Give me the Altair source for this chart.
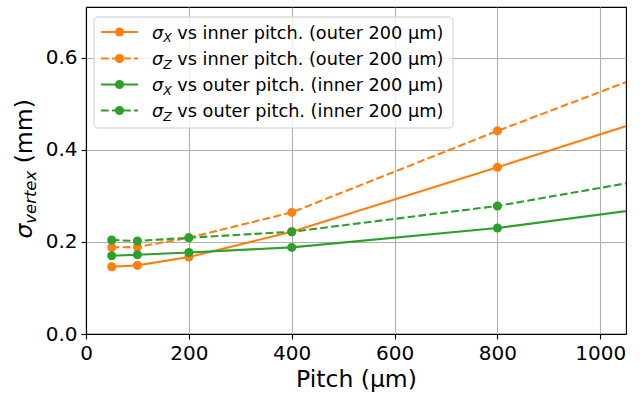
import altair as alt
import pandas as pd

# ---- data ----
pitch = [50, 100, 200, 400, 800, 1600]
sx_inner = [0.146, 0.149, 0.167, 0.222, 0.362, 0.648]
sz_inner = [0.188, 0.189, 0.209, 0.264, 0.441, 0.780]
sx_outer = [0.170, 0.172, 0.177, 0.188, 0.230, 0.348]
sz_outer = [0.204, 0.202, 0.209, 0.222, 0.278, 0.435]

series_keys = ["sx_in", "sz_in", "sx_out", "sz_out"]
series_vals = [sx_inner, sz_inner, sx_outer, sz_outer]
sub_letters = ["X", "Z", "X", "Z"]
label_rest = [
    "vs inner pitch. (outer 200 μm)",
    "vs inner pitch. (outer 200 μm)",
    "vs outer pitch. (inner 200 μm)",
    "vs outer pitch. (inner 200 μm)",
]
colors = ["#ff7f0e", "#ff7f0e", "#2ca02c", "#2ca02c"]
dashed = [False, True, False, True]

x_ticks = [0, 200, 400, 600, 800, 1000]
y_ticks = [0.0, 0.2, 0.4, 0.6]

rows = []
for k, vals in zip(series_keys, series_vals):
    for p, v in zip(pitch, vals):
        rows.append({"series": k, "pitch": p, "sigma": v})
df = pd.DataFrame(rows)

FONT = "DejaVu Sans"
DASH = [7.7, 3.3]
LW = 2.1
MS = 82

x_enc = alt.X(
    "pitch:Q",
    scale=alt.Scale(domain=[0, 1050], nice=False, zero=False),
    axis=alt.Axis(values=x_ticks, title="Pitch (μm)", format="d"),
)
y_enc = alt.Y(
    "sigma:Q",
    scale=alt.Scale(domain=[0, 0.71], nice=False),
    axis=alt.Axis(values=y_ticks, format=".1f", title=None),
)

layers = []
for k, c, d in zip(series_keys, colors, dashed):
    sub = df[df["series"] == k]
    line_kw = dict(color=c, strokeWidth=LW, clip=True)
    if d:
        line_kw["strokeDash"] = DASH
    layers.append(alt.Chart(sub).mark_line(**line_kw).encode(x=x_enc, y=y_enc))
    layers.append(
        alt.Chart(sub)
        .mark_circle(color=c, size=MS, opacity=1, clip=True)
        .encode(x=x_enc, y=y_enc)
    )

one = alt.Data(values=[{"a": 1}])

# ---- legend (drawn manually to match the line+marker handles) ----
layers.append(
    alt.Chart(one)
    .mark_rect(fill="white", fillOpacity=0.8, stroke="#cccccc", strokeWidth=1, cornerRadius=4)
    .encode(x=alt.value(8), x2=alt.value(367), y=alt.value(10), y2=alt.value(121))
)
row_y = [25, 51.5, 77.5, 103.5]
for ry, c, d, sl, rest in zip(row_y, colors, dashed, sub_letters, label_rest):
    rk = dict(color=c, strokeWidth=LW)
    if d:
        rk["strokeDash"] = DASH
    layers.append(
        alt.Chart(one).mark_rule(**rk).encode(
            x=alt.value(15), x2=alt.value(52), y=alt.value(ry)
        )
    )
    layers.append(
        alt.Chart(one).mark_circle(color=c, size=MS, opacity=1).encode(
            x=alt.value(33.5), y=alt.value(ry)
        )
    )
    layers.append(
        alt.Chart(one)
        .mark_text(font=FONT, fontSize=17.7, fontStyle="italic", align="left",
                   baseline="alphabetic", color="black")
        .encode(x=alt.value(66), y=alt.value(ry + 6.5), text=alt.value("σ"))
    )
    layers.append(
        alt.Chart(one)
        .mark_text(font=FONT, fontSize=12.4, fontStyle="italic", align="left",
                   baseline="alphabetic", color="black")
        .encode(x=alt.value(77.2), y=alt.value(ry + 10), text=alt.value(sl))
    )
    layers.append(
        alt.Chart(one)
        .mark_text(font=FONT, fontSize=17.7, align="left",
                   baseline="alphabetic", color="black")
        .encode(x=alt.value(91.3), y=alt.value(ry + 6.5), text=alt.value(rest))
    )

# ---- y axis title: sigma_vertex (mm) ----
layers.append(
    alt.Chart(one)
    .mark_text(font=FONT, fontSize=23.5, fontStyle="italic", align="left",
               baseline="alphabetic", angle=270, color="black")
    .encode(x=alt.value(-54), y=alt.value(231.5), text=alt.value("σ"))
)
layers.append(
    alt.Chart(one)
    .mark_text(font=FONT, fontSize=16.45, fontStyle="italic", align="left",
               baseline="alphabetic", angle=270, color="black")
    .encode(x=alt.value(-50), y=alt.value(216.7), text=alt.value("vertex"))
)
layers.append(
    alt.Chart(one)
    .mark_text(font=FONT, fontSize=23.5, align="left",
               baseline="alphabetic", angle=270, color="black")
    .encode(x=alt.value(-54), y=alt.value(156.3), text=alt.value("(mm)"))
)

chart = (
    alt.layer(*layers)
    .properties(
        width=540,
        height=327,
        autosize=alt.AutoSizeParams(type="none"),
        padding={"left": 86, "top": 7, "right": 18, "bottom": 60},
        background="white",
    )
    .configure_view(stroke="black", strokeWidth=1.1)
    .configure_axis(
        grid=True,
        gridColor="#b0b0b0",
        gridWidth=1.1,
        domainColor="black",
        domainWidth=1.1,
        tickColor="black",
        tickWidth=1.1,
        tickSize=5,
        labelFont=FONT,
        labelFontSize=20,
        labelColor="black",
        labelPadding=4,
        titleFont=FONT,
        titleFontSize=23.5,
        titleFontWeight="normal",
        titleColor="black",
        titlePadding=4,
        labelFlush=False,
    )
)

chart.save("out.html", embed_options={"renderer": "svg", "actions": False})
